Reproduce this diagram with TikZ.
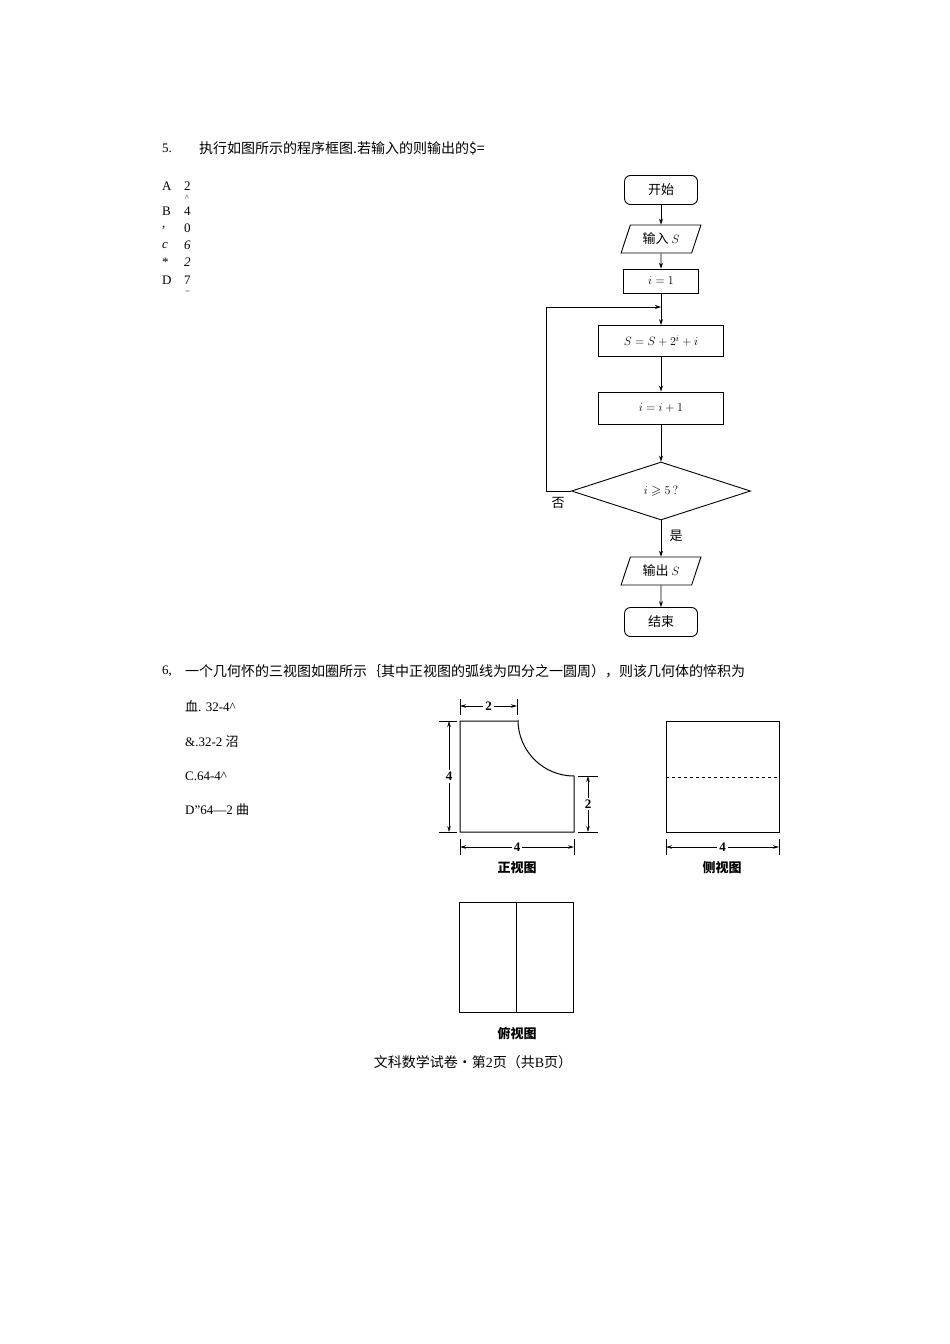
\documentclass[tikz,border=0pt]{standalone}
\usepackage{amssymb}
\usepackage{fontspec}
\setmainfont{Liberation Serif}
\newfontfamily\cjk{Noto Sans CJK SC}
\usetikzlibrary{shapes.geometric,arrows.meta}
\begin{document}
\begin{tikzpicture}[x=1pt,y=-1pt,
  txt/.style={inner sep=0pt,font=\fontsize{13}{15}\selectfont},
  lab/.style={inner sep=0pt,font=\cjk\fontsize{14}{16}\selectfont},
  fl/.style={draw,line width=0.9pt,font=\cjk\fontsize{13}{15}\selectfont,inner sep=0pt},
  term/.style={fl,rounded corners=6pt,minimum width=73pt,minimum height=29pt},
  proc/.style={fl,minimum height=24pt},
  io/.style={fl,trapezium,trapezium left angle=65,trapezium right angle=115,minimum width=80pt,minimum height=28pt,trapezium stretches=true},
  arr/.style={-{Stealth[length=6pt,width=4pt]},line width=0.8pt},
  geo/.style={line width=1pt},
  dim/.style={{Stealth[length=6pt,width=3.5pt]}-{Stealth[length=6pt,width=3.5pt]},line width=0.8pt},
  dl/.style={fill=white,inner sep=2pt,font=\bfseries\fontsize{13}{15}\selectfont},
  vl/.style={inner sep=0pt,font=\cjk\bfseries\fontsize{13}{15}\selectfont},
  ext/.style={line width=0.9pt}]
\useasboundingbox (0,0) rectangle (950,1344);
% question 5
\node[txt,anchor=west] (q5n) at (162,148) {5.};
\node[lab,anchor=west] (q5) at (199,148) {执行如图所示的程序框图.若输入的则输出的\$=};
\foreach \t/\y [count=\k] in {A/186,B/211,{,}/228,\textit{c}/245,*/262,D/280}
  \node[txt,anchor=west] (ol\k) at (162,\y) {\t};
\foreach \t/\y [count=\k] in {2/186,4/211,0/228,\textit{6}/245,\textit{2}/262,7/280}
  \node[txt,anchor=west] (or\k) at (184,\y) {\t};
\node[inner sep=0pt,anchor=north west,font=\fontsize{8}{8}\selectfont] (hat) at (185,195) {\^{}};
\node[inner sep=0pt,anchor=north west,font=\fontsize{9}{9}\selectfont] (mn) at (185,291) {\textminus};
% flowchart
\node[term] (start) at (661,190) {开始};
\node[io] (in) at (661,239) {输入 $S$};
\node[proc,minimum width=75pt] (i1) at (661,281) {$i=1$};
\coordinate (j) at (661,307);
\node[proc,minimum width=125pt,minimum height=31pt] (s) at (661,341) {$S=S+2^i+i$};
\node[proc,minimum width=125pt,minimum height=32pt] (inc) at (661,408) {$i=i+1$};
\node[fl,diamond,aspect=3.1,minimum width=179pt,minimum height=58pt] (d) at (661,491) {$i\geqslant 5\,?$};
\node[io] (out) at (661,571) {输出 $S$};
\node[term] (end) at (661,622) {结束};
\draw[arr] (start) -- (in);
\draw[arr] (in) -- (i1);
\draw[line width=0.8pt] (i1) -- (j);
\draw[arr] (j) -- (s);
\draw[arr] (s) -- (inc);
\draw[arr] (inc) -- (d);
\draw[arr] (d) -- (out);
\draw[arr] (out) -- (end);
\draw[arr] (d.west) -- (546,491) -- (546,307) -- (j);
\node[lab,font=\cjk\fontsize{13}{15}\selectfont] (no) at (558,503) {否};
\node[lab,font=\cjk\fontsize{13}{15}\selectfont] (yes) at (676,536) {是};
% question 6
\node[txt,anchor=west] (q6n) at (162,671) {6,};
\node[lab,anchor=west] (q6) at (185,671) {一个几何怀的三视图如圈所示｛其中正视图的弧线为四分之一圆周），则该几何体的悴积为};
\node[txt,anchor=west] (a6) at (185,706) {{\cjk 血}. 32-4\^{}};
\node[txt,anchor=west] (b6) at (185,742) {\&.32-2 {\cjk 沼}};
\node[txt,anchor=west] (c6) at (185,776) {C.64-4\^{}};
\node[txt,anchor=west] (d6) at (185,810) {D"64—2 {\cjk 曲}};
% front view
\draw[geo] (517,721) -- (460,721) -- (460,832) -- (574,832) -- (574,776) arc[start angle=90,end angle=180,radius=56];
\draw[ext] (460,699) -- (460,715) (517,699) -- (517,715);
\draw[dim] (460,706) -- node[dl]{2} (517,706);
\draw[ext] (439,721) -- (457,721) (439,832) -- (457,832);
\draw[dim] (449,721) -- node[dl]{4} (449,832);
\draw[ext] (578,776) -- (598,776) (578,832) -- (598,832);
\draw[dim] (588,776) -- node[dl]{2} (588,832);
\draw[ext] (460,839) -- (460,855) (574,839) -- (574,855);
\draw[dim] (460,847) -- node[dl]{4} (574,847);
\node[vl] (fv) at (517,868) {正视图};
% side view
\draw[geo] (666,721) rectangle (779,832);
\draw[line width=0.8pt,dashed] (666,777) -- (779,777);
\draw[ext] (666,839) -- (666,855) (779,839) -- (779,855);
\draw[dim] (666,847) -- node[dl]{4} (779,847);
\node[vl] (sv) at (722,868) {侧视图};
% top view
\draw[geo] (459,902) rectangle (573,1012);
\draw[geo] (516,902) -- (516,1012);
\node[vl] (tv) at (517,1033) {俯视图};
% footer
\node[lab] (foot) at (473,1062) {文科数学试卷•第{\rmfamily 2}页（共{\rmfamily B}页）};
\end{tikzpicture}
\end{document}
